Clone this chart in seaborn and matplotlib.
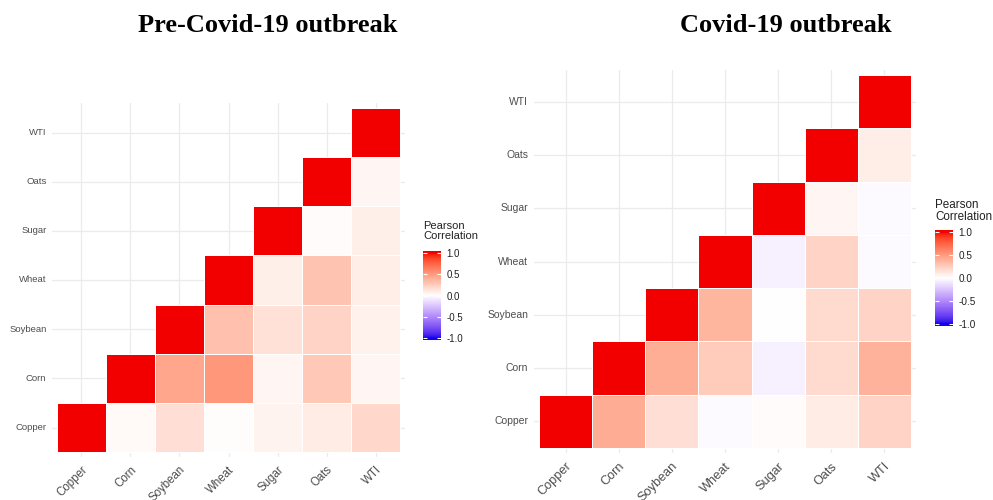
import numpy as np
import pandas as pd
import matplotlib
matplotlib.use("Agg")
import matplotlib.pyplot as plt
from matplotlib.colors import ListedColormap, Normalize, to_rgb
from matplotlib.cm import ScalarMappable
import seaborn as sns

# ---------------------------------------------------------------- data
commodities = ["Copper", "Corn", "Soybean", "Wheat", "Sugar", "Oats", "WTI"]

# Pearson correlations, upper triangle (row commodity vs. column commodity)
pre_covid_corr = [
    [1.00, 0.03, 0.16, 0.01, 0.06, 0.10, 0.20],
    [0.03, 1.00, 0.45, 0.52, 0.05, 0.28, 0.05],
    [0.16, 0.45, 1.00, 0.32, 0.15, 0.22, 0.07],
    [0.01, 0.52, 0.32, 1.00, 0.08, 0.30, 0.09],
    [0.06, 0.05, 0.15, 0.08, 1.00, 0.02, 0.08],
    [0.10, 0.28, 0.22, 0.30, 0.02, 1.00, 0.05],
    [0.20, 0.05, 0.07, 0.09, 0.08, 0.05, 1.00],
]
covid_corr = [
    [1.00, 0.42, 0.16, -0.02, 0.02, 0.10, 0.22],
    [0.42, 1.00, 0.41, 0.26, -0.06, 0.18, 0.39],
    [0.16, 0.41, 1.00, 0.37, 0.00, 0.18, 0.22],
    [-0.02, 0.26, 0.37, 1.00, -0.06, 0.22, -0.02],
    [0.02, -0.06, 0.00, -0.06, 1.00, 0.05, -0.02],
    [0.10, 0.18, 0.18, 0.22, 0.05, 1.00, 0.09],
    [0.22, 0.39, 0.22, -0.02, -0.02, 0.09, 1.00],
]
panel_titles = ["Pre-Covid-19 outbreak", "Covid-19 outbreak"]
legend_title = "Pearson\nCorrelation"
legend_ticks = [-1.0, -0.5, 0.0, 0.5, 1.0]


# ------------------------------------------- diverging palette in CIELAB
def _srgb_to_lab(rgb):
    c = np.asarray(rgb, dtype=float)
    lin = np.where(c <= 0.04045, c / 12.92, ((c + 0.055) / 1.055) ** 2.4)
    m = np.array([[0.4124, 0.3576, 0.1805],
                  [0.2126, 0.7152, 0.0722],
                  [0.0193, 0.1192, 0.9505]])
    xyz = m @ lin / np.array([0.95047, 1.0, 1.08883])
    f = np.where(xyz > 0.008856, np.cbrt(xyz), 7.787 * xyz + 16 / 116)
    return np.array([116 * f[1] - 16, 500 * (f[0] - f[1]), 200 * (f[1] - f[2])])


def _lab_to_srgb(lab):
    L, a, b = lab
    fy = (L + 16) / 116
    fx = fy + a / 500
    fz = fy - b / 200
    f = np.array([fx, fy, fz])
    xyz = np.where(f ** 3 > 0.008856, f ** 3, (f - 16 / 116) / 7.787)
    xyz = xyz * np.array([0.95047, 1.0, 1.08883])
    m = np.array([[3.2406, -1.5372, -0.4986],
                  [-0.9689, 1.8758, 0.0415],
                  [0.0557, -0.2040, 1.0570]])
    lin = np.clip(m @ xyz, 0, 1)
    c = np.where(lin <= 0.0031308, 12.92 * lin, 1.055 * lin ** (1 / 2.4) - 0.055)
    return np.clip(c, 0, 1)


def gradient2(low, mid, high, n=256):
    lo, mi, hi = (_srgb_to_lab(to_rgb(c)) for c in (low, mid, high))
    cols = []
    for v in np.linspace(-1, 1, n):
        if v < 0:
            lab = mi + (lo - mi) * (-v)
        else:
            lab = mi + (hi - mi) * v
        cols.append(_lab_to_srgb(lab))
    cm = ListedColormap(cols)
    cm.set_under(cols[0])
    cm.set_over(cols[-1])
    return cm


cmap = gradient2("#1000EE", "white", "#F20000")
norm = Normalize(vmin=-1, vmax=1)

# ---------------------------------------------------------------- figure
plt.rcParams["font.family"] = ["Liberation Sans", "DejaVu Sans"]
fig = plt.figure(figsize=(9.93, 5.0), dpi=100, facecolor="white")

panels = [
    dict(data=pre_covid_corr, title=panel_titles[0], title_x=268,
         ax=[52, 103, 405, 457], ytick=6.8, xtick=8.3,
         cbar=[423, 251, 441, 340], ltitle=(423, 221), lfont=8.0, lticks=7.0),
    dict(data=covid_corr, title=panel_titles[1], title_x=786,
         ax=[533.7, 69.7, 916.3, 453.3], ytick=7.5, xtick=9.2,
         cbar=[935, 230, 953, 326], ltitle=(935, 199), lfont=8.4, lticks=7.2),
]

W, H = 993.0, 500.0


def px_rect(x0, y0, x1, y1):
    return [x0 / W, 1 - y1 / H, (x1 - x0) / W, (y1 - y0) / H]


for p in panels:
    mat = pd.DataFrame(p["data"], index=commodities, columns=commodities)
    # rows listed top-to-bottom: WTI first, Copper last
    df = mat.iloc[::-1]
    n = len(commodities)
    ri = np.arange(n)[::-1][:, None]   # original row index
    ci = np.arange(n)[None, :]
    mask = ci < ri

    ax = fig.add_axes(px_rect(*p["ax"]))
    sns.heatmap(df, mask=mask, cmap=cmap, vmin=-1, vmax=1, cbar=False,
                linewidths=0.7, linecolor="white", ax=ax)
    # white borders only around the drawn tiles, so the grid shows through
    mesh = ax.collections[0]
    edge = np.array([[1, 1, 1, 0] if m else [1, 1, 1, 1]
                     for m in mask.ravel()], dtype=float)
    mesh.set_edgecolor(edge)

    ax.set_xlim(-0.1, n + 0.1)
    ax.set_ylim(n + 0.1, -0.1)
    ax.set_axisbelow(True)
    ax.grid(True, color="#EBEBEB", linewidth=0.9, linestyle="-")
    ax.set_xlabel("")
    ax.set_ylabel("")
    ax.tick_params(axis="both", length=0, colors="#4D4D4D")
    ax.tick_params(axis="y", pad=4, labelsize=p["ytick"])
    ax.tick_params(axis="x", pad=5, labelsize=p["xtick"])
    plt.setp(ax.get_yticklabels(), rotation=0)
    plt.setp(ax.get_xticklabels(), rotation=45, ha="right", va="top",
             rotation_mode="anchor")
    for s in ax.spines.values():
        s.set_visible(False)

    # colour legend (short rectangular end caps pad the bar beyond +-1)
    cax = fig.add_axes(px_rect(*p["cbar"]))
    cb = fig.colorbar(ScalarMappable(norm=norm, cmap=cmap), cax=cax,
                      ticks=legend_ticks, extend="both", extendrect=True,
                      extendfrac=0.025)
    cb.outline.set_visible(False)
    cb.ax.set_yticklabels([f"{t:.1f}" for t in legend_ticks])
    cax.yaxis.set_ticks_position("both")
    cax.tick_params(axis="y", direction="in", length=3.2, width=0.8,
                    color="white", labelsize=p["lticks"], pad=4,
                    labelcolor="#222222", left=True, right=True,
                    labelleft=False, labelright=True)
    fig.text(p["ltitle"][0] / W, 1 - p["ltitle"][1] / H, legend_title,
             ha="left", va="top", fontsize=p["lfont"], color="#222222",
             linespacing=1.05)

    fig.text(p["title_x"] / W, 1 - 32 / H, p["title"], ha="center",
             va="baseline", fontsize=19, fontweight="bold",
             family=["Liberation Serif", "DejaVu Serif"], color="black")

fig.savefig("out.png", dpi=100, facecolor="white")
